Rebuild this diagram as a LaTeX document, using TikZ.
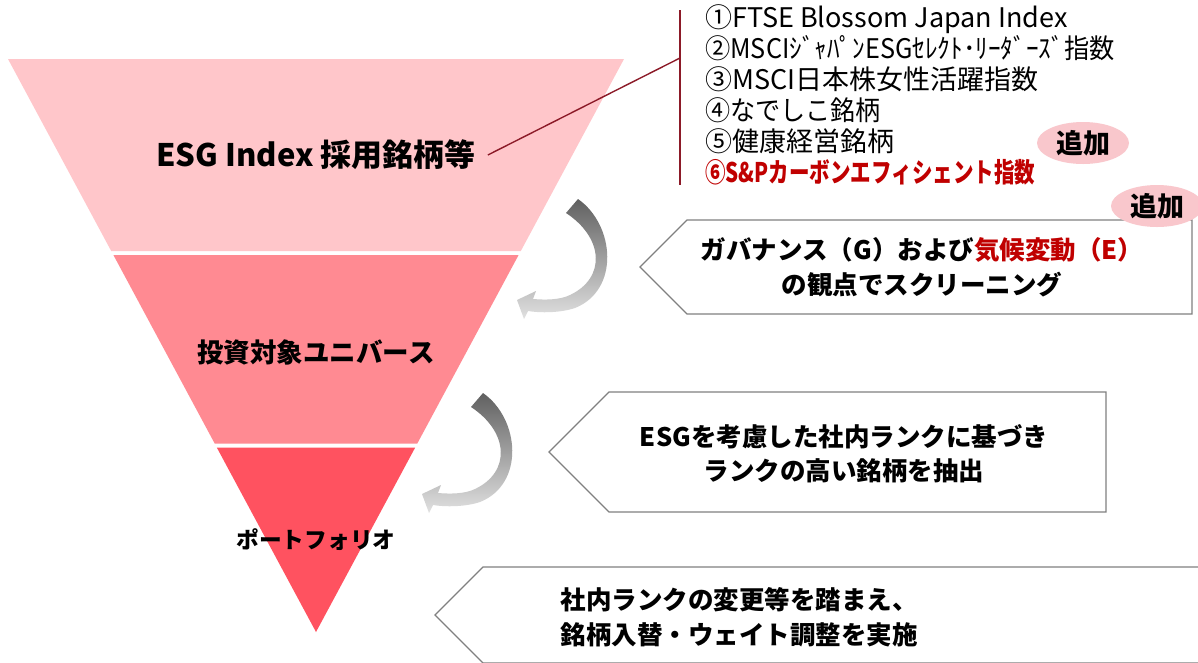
\documentclass[tikz,border=0pt]{standalone}
\usepackage{fontspec}
\usepackage{graphicx}
\setmainfont{Noto Sans CJK JP}
\usetikzlibrary{shapes.geometric}
\definecolor{bandA}{RGB}{255,198,202}
\definecolor{bandB}{RGB}{255,138,146}
\definecolor{bandC}{RGB}{255,82,96}
\definecolor{accent}{RGB}{192,0,0}
\definecolor{connred}{RGB}{140,26,40}
\definecolor{badgepink}{RGB}{249,199,204}
\definecolor{boxline}{RGB}{128,128,128}
\definecolor{arrowdark}{RGB}{96,96,96}
\definecolor{arrowlight}{RGB}{225,225,225}
\begin{document}
\begin{tikzpicture}[x=1pt,y=-1pt,
  lbl/.style={font=\bfseries\fontsize{#1}{#1}\selectfont, inner sep=0pt},
  listtxt/.style={font=\fontsize{27}{27}\selectfont, inner sep=0pt, anchor=base west},
  boxtxt/.style={font=\bfseries\fontsize{25.5}{34.5}\selectfont, align=center, inner sep=0pt},
  sigbox/.style={draw=boxline, line width=1.3pt, fill=white},
  badge/.style={ellipse, fill=badgepink, minimum width=92pt, minimum height=42pt, inner sep=0pt, font=\bfseries\fontsize{27}{27}\selectfont},
  connector/.style={draw=connred, line width=1.4pt},
  bendarrow/.style={top color=arrowdark, bottom color=arrowlight, draw=none}]
\clip (0,0) rectangle (1198,662);
\fill[white] (0,0) rectangle (1198,662);
% funnel bands
\fill[bandA] (8,59) -- (624,59) -- (520.8,251) -- (111.2,251) -- cycle;
\fill[bandB] (113.4,255) -- (518.6,255) -- (417.3,443.5) -- (214.7,443.5) -- cycle;
\fill[bandC] (216.8,447.5) -- (415.2,447.5) -- (316,632) -- cycle;
% band labels
\node[lbl=31] (esg) at (316,155) {ESG Index 採用銘柄等};
\node[lbl=26.5] (univ) at (316,352) {投資対象ユニバース};
\node[lbl=22.7] (port) at (316,540) {ポートフォリオ};
% index list
\coordinate (vtop) at (680,10);
\coordinate (vbot) at (680,185);
\coordinate (join) at (680,58);
\draw[connector] (vtop) -- (vbot);
\draw[connector] ([xshift=12pt]esg.east) -- (join);
\node[listtxt] (l1) at (705,27) {①FTSE Blossom Japan Index};
\node[listtxt] (l2) at (705,58) {\scalebox{0.935}[1]{②MSCIｼﾞｬﾊﾟﾝESGｾﾚｸﾄ･ﾘｰﾀﾞｰｽﾞ指数}};
\node[listtxt] (l3) at (705,89) {③MSCI日本株女性活躍指数};
\node[listtxt] (l4) at (705,120) {\scalebox{0.93}[1]{④なでしこ銘柄}};
\node[listtxt] (l5) at (705,151) {⑤健康経営銘柄};
\node[listtxt, font=\bfseries\fontsize{27}{27}\selectfont, text=accent] (l6) at (705,182) {\scalebox{0.76}[1]{⑥S\&Pカーボンエフィシェント指数}};
% curved arrows
\foreach \dx/\dy in {0/0,-95/194}{
  \begin{scope}[shift={(\dx,\dy)}]
  \shade[bendarrow] (578,199) .. controls (615,225) and (620,290) .. (575,308)
     .. controls (560,313) and (540,313) .. (528,311)
     -- (524,319) -- (517,300) -- (536,291) -- (533,299)
     .. controls (545,300) and (560,300) .. (570,295)
     .. controls (606,278) and (604,238) .. (566,213) -- cycle;
  \end{scope}
}
% signal boxes
\draw[sigbox] (640,267) -- (687,220) -- (1192,220) -- (1192,314) -- (687,314) -- cycle;
\draw[sigbox] (549,452) -- (609,392) -- (1106,392) -- (1106,512) -- (609,512) -- cycle;
\draw[sigbox] (435,615) -- (483,567) -- (1215,567) -- (1215,663) -- (483,663) -- cycle;
\node[boxtxt] (t1) at (922,267.5) {ガバナンス（G）および\textcolor{accent}{気候変動（E）}\\の観点でスクリーニング};
\node[boxtxt] (t2) at (844,453.5) {ESGを考慮した社内ランクに基づき\\ランクの高い銘柄を抽出};
\node[boxtxt] (t3) at (739,617) {社内ランクの変更等を踏まえ、\\銘柄入替・ウェイト調整を実施};
% badges
\node[badge] (b1) at (1083,143) {追加};
\node[badge] (b2) at (1157,206) {追加};
\end{tikzpicture}
\end{document}
